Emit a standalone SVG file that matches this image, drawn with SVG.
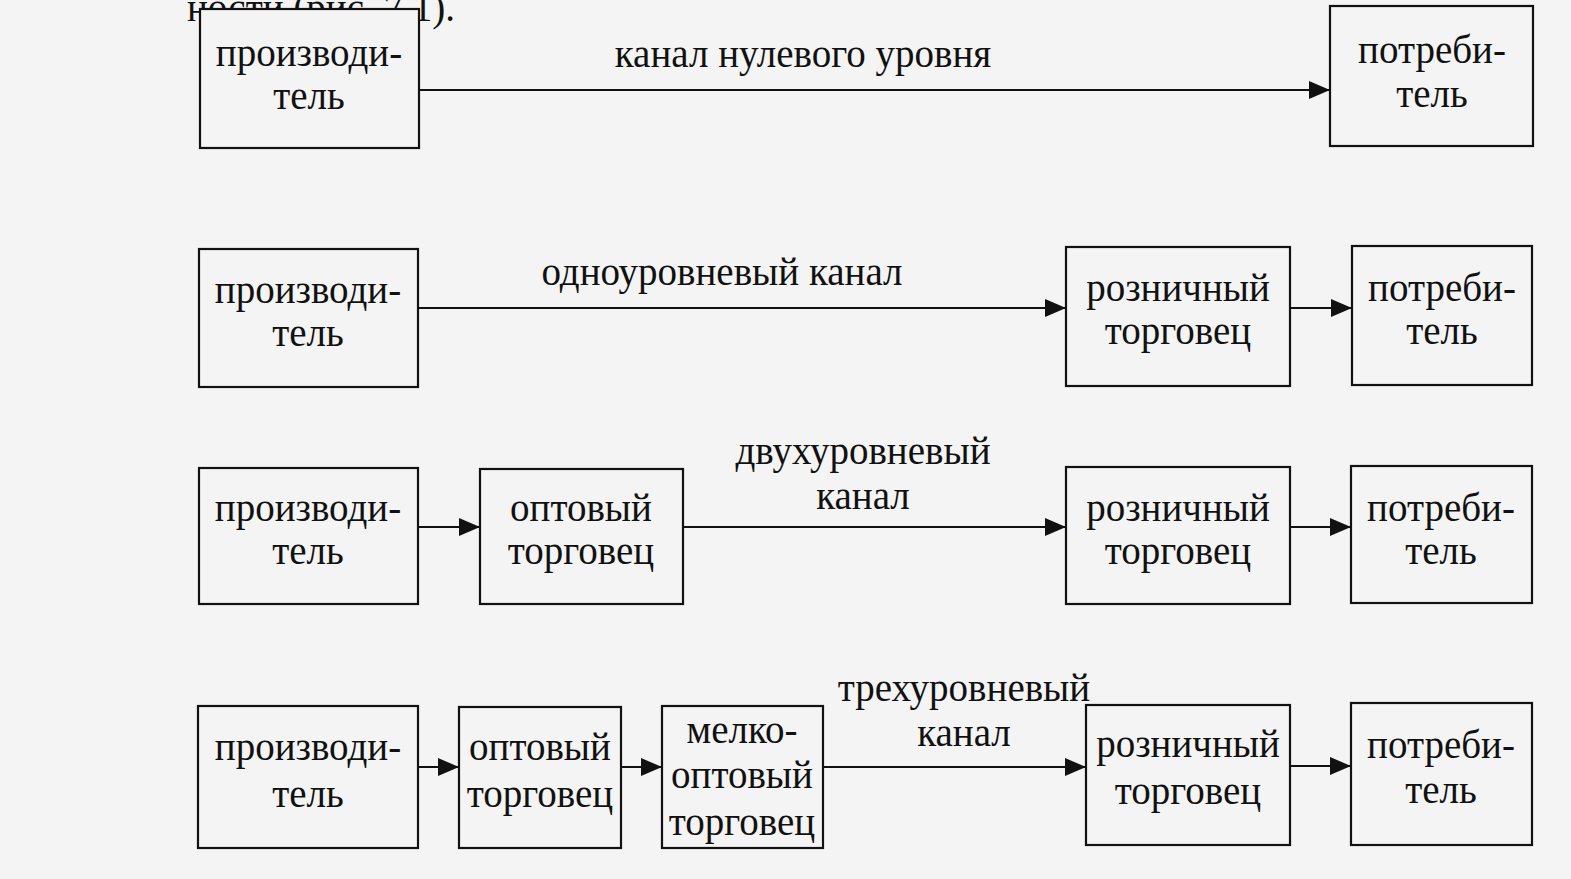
<svg xmlns="http://www.w3.org/2000/svg" width="1571" height="879" viewBox="0 0 1571 879">
<defs>
<marker id="ah" markerUnits="userSpaceOnUse" markerWidth="22" markerHeight="20" refX="21" refY="9" orient="auto">
<path d="M0,0 L21,9 L0,18 z" fill="#111"/>
</marker>
<style>
text{font-family:"Liberation Serif","Times New Roman",serif;font-size:39px;fill:#111;text-anchor:middle}
.box rect{fill:#f4f4f4;stroke:#111;stroke-width:2.2}
.conn line{stroke:#111;stroke-width:2.2;marker-end:url(#ah)}
</style>
</defs>
<rect width="1571" height="879" fill="#f4f4f4"/>
<text x="187" y="21" style="text-anchor:start">ности (рис. 7.1).</text>

<g class="conn" id="connectors">
<line x1="419" y1="90" x2="1330" y2="90"/>
<line x1="418" y1="308" x2="1066" y2="308"/>
<line x1="1290" y1="308" x2="1352" y2="308"/>
<line x1="418" y1="527" x2="480" y2="527"/>
<line x1="683" y1="527" x2="1066" y2="527"/>
<line x1="1290" y1="527" x2="1351" y2="527"/>
<line x1="418" y1="767" x2="459" y2="767"/>
<line x1="621" y1="767" x2="662" y2="767"/>
<line x1="823" y1="767" x2="1086" y2="767"/>
<line x1="1290" y1="766" x2="1351" y2="766"/>
</g>

<g id="labels">
<text x="803" y="67">канал нулевого уровня</text>
<text x="722" y="285">одноуровневый канал</text>
<text x="863" y="464">двухуровневый</text>
<text x="863" y="509">канал</text>
<text x="964" y="701">трехуровневый</text>
<text x="964" y="746">канал</text>
</g>

<g class="box" id="n1-producer"><rect x="200" y="9" width="219" height="139"/><text x="309" y="66">производи-</text><text x="309" y="109">тель</text></g>
<g class="box" id="n1-consumer"><rect x="1330" y="6" width="203" height="140"/><text x="1432" y="63">потреби-</text><text x="1432" y="107">тель</text></g>

<g class="box" id="n2-producer"><rect x="199" y="249" width="219" height="138"/><text x="308" y="303">производи-</text><text x="308" y="346">тель</text></g>
<g class="box" id="n2-retailer"><rect x="1066" y="247" width="224" height="139"/><text x="1178" y="301">розничный</text><text x="1178" y="344">торговец</text></g>
<g class="box" id="n2-consumer"><rect x="1352" y="246" width="180" height="139"/><text x="1442" y="301">потреби-</text><text x="1442" y="344">тель</text></g>

<g class="box" id="n3-producer"><rect x="199" y="468" width="219" height="136"/><text x="308" y="521">производи-</text><text x="308" y="564">тель</text></g>
<g class="box" id="n3-wholesaler"><rect x="480" y="469" width="203" height="135"/><text x="581" y="521">оптовый</text><text x="581" y="564">торговец</text></g>
<g class="box" id="n3-retailer"><rect x="1066" y="467" width="224" height="137"/><text x="1178" y="521">розничный</text><text x="1178" y="564">торговец</text></g>
<g class="box" id="n3-consumer"><rect x="1351" y="466" width="181" height="137"/><text x="1441" y="521">потреби-</text><text x="1441" y="564">тель</text></g>

<g class="box" id="n4-producer"><rect x="198" y="706" width="220" height="142"/><text x="308" y="760">производи-</text><text x="308" y="807">тель</text></g>
<g class="box" id="n4-wholesaler"><rect x="459" y="707" width="162" height="141"/><text x="540" y="760">оптовый</text><text x="540" y="807">торговец</text></g>
<g class="box" id="n4-smallwholesaler"><rect x="662" y="706" width="161" height="142"/><text x="742" y="743">мелко-</text><text x="742" y="788">оптовый</text><text x="742" y="835">торговец</text></g>
<g class="box" id="n4-retailer"><rect x="1086" y="705" width="204" height="140"/><text x="1188" y="757">розничный</text><text x="1188" y="804">торговец</text></g>
<g class="box" id="n4-consumer"><rect x="1351" y="703" width="181" height="142"/><text x="1441" y="758">потреби-</text><text x="1441" y="803">тель</text></g>
</svg>
